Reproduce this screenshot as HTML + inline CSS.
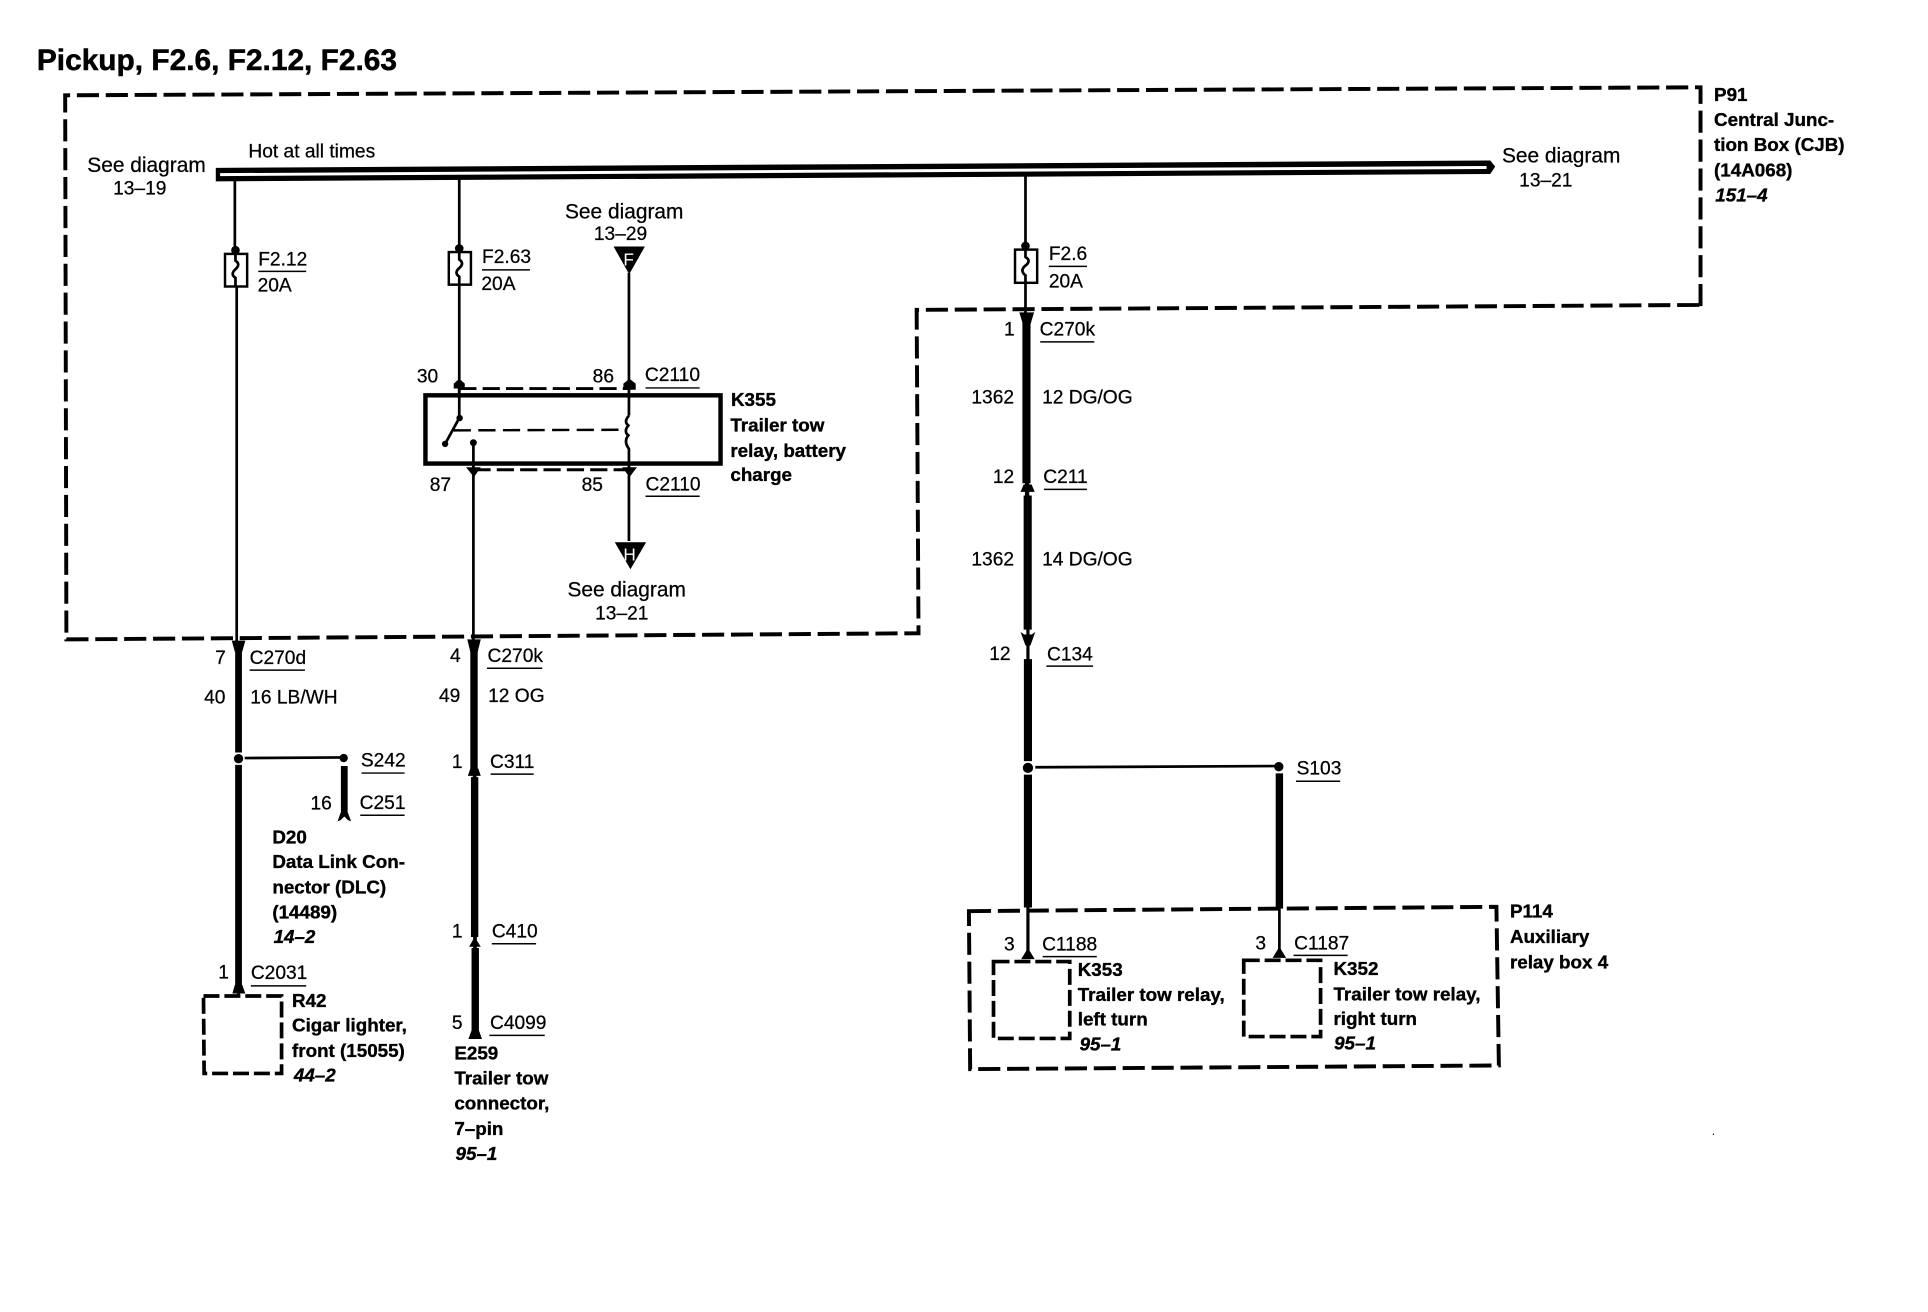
<!DOCTYPE html>
<html><head><meta charset="utf-8"><title>Pickup, F2.6, F2.12, F2.63</title>
<style>
html,body{margin:0;padding:0;background:#fff;width:1928px;height:1312px;overflow:hidden}
svg{display:block}
text{font-family:"Liberation Sans",sans-serif;font-size:15.6px;fill:#000;stroke:#000;stroke-width:.2}
.b{font-weight:bold;font-size:15.3px;stroke-width:.3}
.i{font-weight:bold;font-style:italic;font-size:15.3px;stroke-width:.3}
.s{font-size:17px}
.t{font-weight:bold;font-size:24.3px;stroke-width:.4}
.d{fill:none;stroke:#000;stroke-width:3.2;stroke-dasharray:18 5.5}
.u{stroke:#000;stroke-width:1.2;fill:none}
.w{stroke:#000;stroke-width:2.2;fill:none}
.k{stroke:#000;stroke-width:6;fill:none}
.n{fill:#000;stroke:none}
.f{fill:#fff;stroke:#000;stroke-width:2}
</style></head>
<body>
<svg width="1928" height="1312" viewBox="0 0 1568 1067" preserveAspectRatio="none" xmlns="http://www.w3.org/2000/svg">
<rect width="1568" height="1067" fill="#fff"/>
<text class="t" x="30" y="57">Pickup, F2.6, F2.12, F2.63</text>

<path class="d" d="M1383 249 L1383 71 L53 77.5 L54 520 L747 515 L745.5 252 L1383 248"/>

<path d="M175.5 136.5 L1212 130.5 L1216 135.5 L1212 141.5 L175.5 147.5Z" fill="#000"/>
<path d="M179 140.8 L1209 135 L1209 137.4 L179 143.2Z" fill="#fff"/>

<path class="w" d="M191 147 L191 206 M192.5 233 L192.5 522"/>
<path class="w" d="M373.5 146 L373.5 205 M373.5 231 L373.5 340"/>
<path class="w" d="M834 143 L834 203 M834 230 L834 258"/>

<g>
<rect class="f" x="183" y="206.5" width="18" height="26.5"/>
<circle class="n" cx="191.5" cy="203.5" r="3.5"/>
<path class="w" d="M191.5 206 L191.5 212 Q196 215 191.5 219 Q187 223 191.5 226 L191.5 233"/>
<rect class="f" x="365" y="205" width="18" height="26.5"/>
<circle class="n" cx="373.5" cy="202" r="3.5"/>
<path class="w" d="M373.5 205 L373.5 211 Q378 214 373.5 218 Q369 222 373.5 225 L373.5 231"/>
<rect class="f" x="825.5" y="203" width="18" height="27"/>
<circle class="n" cx="834" cy="200" r="3.5"/>
<path class="w" d="M834 203 L834 209 Q839 212 834 216 Q829 220 834 224 L834 230"/>
</g>

<rect x="346" y="321.5" width="240" height="55.5" fill="#fff" stroke="#000" stroke-width="3.6"/>
<path d="M373.5 316 L512 316 M385 382 L512 382" fill="none" stroke="#000" stroke-width="2.4" stroke-dasharray="14 5"/>
<path class="w" d="M373.5 312 L373.5 340 M373.5 340 L362 361"/>
<circle class="n" cx="373.8" cy="340" r="2.6"/>
<circle class="n" cx="362" cy="361" r="2.6"/>
<path d="M369 350 L510 349.5" fill="none" stroke="#000" stroke-width="2" stroke-dasharray="14 6"/>
<circle class="n" cx="385" cy="360" r="2.8"/>
<path class="w" d="M385 360 L385 522"/>
<path class="w" d="M511.5 222 L511.5 338 M511.5 338 Q507 343 511 346 Q507 351 511 354 Q507 359 511.5 365 L511.5 440"/>

<path class="n" d="M369 312 L373.5 308 L378 312 L378 316 L369 316Z"/>
<path class="n" d="M507 312 L512 308 L517 312 L517 317 L507 317Z"/>
<path class="n" d="M379 380 L391 380 L385.5 388Z"/>
<path class="n" d="M506 380 L518 380 L512 388Z"/>

<polygon class="n" points="499,200.5 524.5,200.5 511.7,223"/>
<polygon class="n" points="500,441 525.5,441 512.7,463"/>
<text x="507" y="216" style="fill:#fff;stroke:none;font-size:14px">F</text>
<text x="507" y="456" style="fill:#fff;stroke:none;font-size:14px">H</text>

<!-- harness left -->
<path class="k" d="M194 526 L194 612 M194 622 L194 803" style="stroke-width:5.5"/>
<path class="n" d="M188.5 521 L199.5 521 L197 530 L191 530Z"/>
<circle class="n" cx="194" cy="617" r="3.8"/>
<path class="w" d="M199 616.5 L279 616"/>
<circle class="n" cx="279.5" cy="616.5" r="3.4"/>
<path class="k" d="M280 623 L280 664" style="stroke-width:5.5"/>
<path class="n" d="M274.5 668 L277 661 L283 661 L285.5 668 L283 667 L280 664 L277 667Z"/>
<path class="n" d="M189 808 L191 801 L197 801 L199.5 808Z"/>
<path class="w" d="M194 806 L194 811"/>
<path class="d" d="M165.5 810 L229 810 L229 873 L166 873Z" style="stroke-dasharray:13 4;stroke-width:3"/>

<!-- harness middle -->
<path class="k" d="M385.5 526 L385.5 625 M386 632 L386 762 M386.5 771 L386.5 841"/>
<path class="w" d="M386 620 L386 636 M386.3 758 L386.3 775" style="stroke-width:3"/>
<path class="n" d="M380 520 L391 520 L388.5 530 L382.5 530Z"/>
<path class="n" d="M380.5 631 L382.5 625 L389 625 L391 631Z"/>
<path class="n" d="M381.5 770 L386 762 L391 770Z"/>
<path class="n" d="M381 845 L383.5 838 L389.5 838 L392 845Z"/>

<!-- harness right -->
<path class="k" d="M834.8 258 L834.8 393 M835.8 403 L835.8 512 M836 536 L836 619 M836 630 L836 738" style="stroke-width:6.6"/>
<path class="w" d="M835.3 388 L835.3 408" style="stroke-width:3.5"/>
<path class="n" d="M829 254 L841 254 L838 264 L832 264Z"/>
<path class="n" d="M830 400 L832.5 394 L839 394 L841.5 400Z"/>
<path class="n" d="M830 514 L833 516 L839 516 L842 514 L838 525 L834 525Z"/>
<path class="w" d="M836 510 L836 538 M836 738 L836 775" style="stroke-width:2.6"/>
<circle class="n" cx="836" cy="624.5" r="4.2"/>
<path class="w" d="M842 624 L1037 623"/>
<circle class="n" cx="1040" cy="623.5" r="3.8"/>
<path class="k" d="M1040.5 629 L1040.5 739"/>
<path class="w" d="M1040.5 739 L1040.5 775"/>

<path class="d" d="M788 741 L1217 737.5 L1219 866.5 L789 869.5Z"/>
<path class="d" d="M808 782 L870 782 L870 844.5 L808 844.5Z" style="stroke-dasharray:13 4;stroke-width:3"/>
<path class="d" d="M1011.5 781 L1074 781 L1074 843 L1011.5 843Z" style="stroke-dasharray:13 4;stroke-width:3"/>
<path class="n" d="M830.5 780 L836 771 L841.5 780Z"/>
<path class="n" d="M1035 779 L1040.5 770 L1046 779Z"/>
<rect class="n" x="1393" y="922" width="1" height="1"/>

<!-- underlines -->
<path class="u" d="M210 220.7H249 M392 219.5H431 M525 315.5H569 M525 403.6H569 M853 216.6H884 M846 278H890 M849 398H884 M851 541.7H889 M1054 635.4H1090 M848 778H892 M1052 777H1096 M203 545H248 M396 543.5H441 M294 628.7H329 M399 629.6H434 M293 663H329 M204 801.8H249 M400 767.5H436 M398 842H443"/>

<!-- thin labels -->
<text x="202" y="128">Hot at all times</text>
<text class="s" x="71" y="140">See diagram</text>
<text x="92" y="158">13–19</text>
<text x="210" y="216">F2.12</text>
<text x="209.5" y="237">20A</text>
<text x="392" y="214">F2.63</text>
<text x="391.5" y="236">20A</text>
<text class="s" x="459.5" y="177.5">See diagram</text>
<text x="483" y="195">13–29</text>
<text x="339" y="311">30</text>
<text x="482" y="311">86</text>
<text x="524.5" y="310">C2110</text>
<text x="349.5" y="399.5">87</text>
<text x="473" y="399.5">85</text>
<text x="525" y="399">C2110</text>
<text class="s" x="461.5" y="485">See diagram</text>
<text x="484" y="504">13–21</text>
<text class="s" x="1221.5" y="132">See diagram</text>
<text x="1235.5" y="151.6">13–21</text>
<text x="853" y="211.5">F2.6</text>
<text x="853" y="234">20A</text>
<text x="816.5" y="273">1</text>
<text x="845.5" y="272.7">C270k</text>
<text x="790" y="328">1362</text>
<text x="847.5" y="328">12 DG/OG</text>
<text x="807.5" y="392.7">12</text>
<text x="848.5" y="393">C211</text>
<text x="790" y="460">1362</text>
<text x="847.5" y="460">14 DG/OG</text>
<text x="804.5" y="536.7">12</text>
<text x="851.5" y="537">C134</text>
<text x="1054.5" y="629.7">S103</text>
<text x="816.5" y="773">3</text>
<text x="847.5" y="773">C1188</text>
<text x="1021" y="772">3</text>
<text x="1052.5" y="772">C1187</text>
<text x="175" y="540">7</text>
<text x="203" y="540">C270d</text>
<text x="166" y="572">40</text>
<text x="203.5" y="572">16 LB/WH</text>
<text x="366" y="538.5">4</text>
<text x="396.5" y="538.5">C270k</text>
<text x="357" y="571">49</text>
<text x="397" y="571">12 OG</text>
<text x="293.5" y="623.5">S242</text>
<text x="367.5" y="624.5">1</text>
<text x="398.5" y="624.5">C311</text>
<text x="252.5" y="658.5">16</text>
<text x="292.5" y="658">C251</text>
<text x="177.5" y="795.7">1</text>
<text x="204" y="796">C2031</text>
<text x="367.5" y="762.5">1</text>
<text x="400" y="762.5">C410</text>
<text x="367.5" y="837">5</text>
<text x="398.5" y="837">C4099</text>

<!-- bold labels -->
<text class="b" x="594.5" y="330">K355</text>
<text class="b" x="594" y="351">Trailer tow</text>
<text class="b" x="594" y="371.5">relay, battery</text>
<text class="b" x="594" y="391">charge</text>
<text class="b" x="1394" y="82">P91</text>
<text class="b" x="1394" y="102.5">Central Junc-</text>
<text class="b" x="1394" y="123">tion Box (CJB)</text>
<text class="b" x="1394" y="143.5">(14A068)</text>
<text class="i" x="1395" y="164">151–4</text>
<text class="b" x="1228" y="746">P114</text>
<text class="b" x="1228" y="767">Auxiliary</text>
<text class="b" x="1228" y="787.6">relay box 4</text>
<text class="b" x="876.5" y="793.7">K353</text>
<text class="b" x="876.5" y="814">Trailer tow relay,</text>
<text class="b" x="876.5" y="834">left turn</text>
<text class="i" x="878" y="854.5">95–1</text>
<text class="b" x="1084.5" y="793">K352</text>
<text class="b" x="1084.5" y="813.5">Trailer tow relay,</text>
<text class="b" x="1084.5" y="833.6">right turn</text>
<text class="i" x="1085" y="853.7">95–1</text>
<text class="b" x="221.5" y="686">D20</text>
<text class="b" x="221.5" y="706">Data Link Con-</text>
<text class="b" x="221.5" y="726.6">nector (DLC)</text>
<text class="b" x="221.5" y="747">(14489)</text>
<text class="i" x="222.5" y="767">14–2</text>
<text class="b" x="237.5" y="819">R42</text>
<text class="b" x="237.5" y="839">Cigar lighter,</text>
<text class="b" x="237.5" y="859.6">front (15055)</text>
<text class="i" x="239" y="879.5">44–2</text>
<text class="b" x="369.5" y="861.6">E259</text>
<text class="b" x="369.5" y="882">Trailer tow</text>
<text class="b" x="369.5" y="902.5">connector,</text>
<text class="b" x="369.5" y="923">7–pin</text>
<text class="i" x="370.5" y="943.5">95–1</text>
</svg>
</body></html>
